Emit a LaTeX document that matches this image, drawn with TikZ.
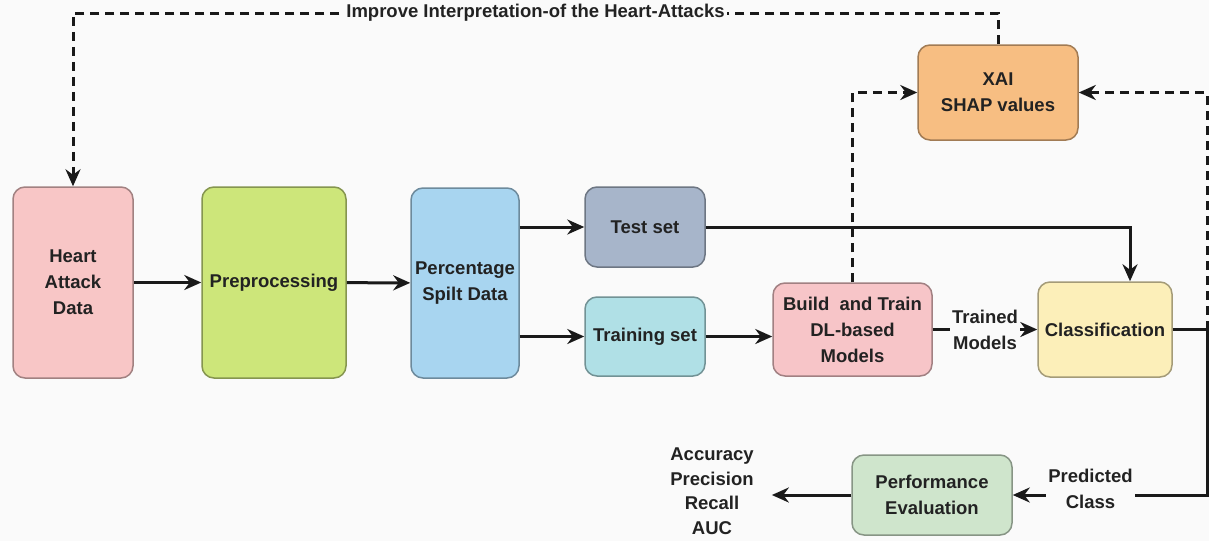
\documentclass[tikz,border=0pt]{standalone}
\usepackage{fontspec}
\setmainfont{Liberation Sans}
\usetikzlibrary{arrows.meta,positioning}
\definecolor{pagebg}{RGB}{250,250,250}
\definecolor{textdark}{RGB}{34,34,34}
\definecolor{heartpink}{RGB}{248,198,198}
\definecolor{prepgreen}{RGB}{205,230,122}
\definecolor{splitblue}{RGB}{168,213,240}
\definecolor{testgrey}{RGB}{167,181,202}
\definecolor{traincyan}{RGB}{176,224,230}
\definecolor{buildpink}{RGB}{247,197,200}
\definecolor{classyellow}{RGB}{252,239,185}
\definecolor{xaiorange}{RGB}{247,190,130}
\definecolor{perfgreen}{RGB}{207,229,204}
\tikzset{
  procbox/.style={draw=#1!65!black,fill=#1,line width=1.5pt,rounded corners=12pt,
    align=center,inner sep=2pt,text=textdark,font=\fontsize{18.5}{26}\selectfont\bfseries},
  lbl/.style={fill=pagebg,inner sep=2pt,align=center,text=textdark,
    font=\fontsize{18.5}{26}\selectfont\bfseries},
  flow/.style={draw=black!90,line width=3pt,-{Stealth[length=17pt,width=15pt]}},
  fback/.style={flow,dash pattern=on 9pt off 6pt},
}

\begin{document}
\begin{tikzpicture}[x=1pt,y=-1pt]
  \useasboundingbox[fill=pagebg] (0,0) rectangle (1209,541);
  % boxes
  \node[procbox=heartpink,minimum width=120,minimum height=191] (heart) at (73,282.5) {Heart\\Attack\\Data};
  \node[procbox=prepgreen,minimum width=144,minimum height=191] (prep) at (274,282.5) {Preprocessing};
  \node[procbox=splitblue,minimum width=108,minimum height=190] (split) at (465,283) {Percentage\\Spilt Data};
  \node[procbox=testgrey,minimum width=120,minimum height=80] (test) at (645,227) {Test set};
  \node[procbox=traincyan,minimum width=120,minimum height=79] (train) at (645,336.5) {Training set};
  \node[procbox=buildpink,minimum width=159,minimum height=93] (build) at (852.5,329.5) {Build~ and Train\\DL-based\\Models};
  \node[procbox=classyellow,minimum width=134,minimum height=95] (class) at (1105,329.5) {Classification};
  \node[procbox=xaiorange,minimum width=160,minimum height=95] (xai) at (998,92.5) {XAI\\SHAP values};
  \node[procbox=perfgreen,minimum width=160,minimum height=80] (perf) at (932,495) {Performance\\Evaluation};
  \node[lbl,font=\fontsize{18.5}{24.5}\selectfont\bfseries] (metrics) at (712,491) {Accuracy\\Precision\\Recall\\AUC};
  % turning points
  \coordinate (topy) at (0,13);
  \coordinate (tturn) at (1130,227);
  \coordinate (cright) at (1207,329.5);
  \coordinate (cdown) at (1207,495);
  % main flow
  \draw[flow] (heart) -- (prep);
  \draw[flow] (prep) -- (split);
  \draw[flow] (split.east |- test) -- (test);
  \draw[flow] (split.east |- train) -- (train);
  \draw[flow] (train) -- (train -| build.west);
  \draw[flow] (build) -- node[lbl] (trained) {Trained\\Models} (class);
  \draw[flow] (test) -- (tturn) -- (tturn |- class.north);
  \draw[flow] (class) -- (cright) -- (cdown) -- node[lbl,pos=0.6,yshift=6] (pred) {Predicted\\Class} (perf);
  \draw[flow,shorten >=16pt] (perf) -- (metrics.east |- perf);
  % XAI feedback
  \draw[fback] (xai.north) -- (xai.north |- topy)
    -- node[lbl,pos=0.5] (improve) {Improve Interpretation-of the Heart-Attacks} (heart.north |- topy) -- (heart.north);
  \draw[fback] (build.north) -- (build.north |- xai.west) -- (xai.west);
  \draw[fback] (cright) -- (cright |- xai.east) -- (xai.east);
\end{tikzpicture}
\end{document}
